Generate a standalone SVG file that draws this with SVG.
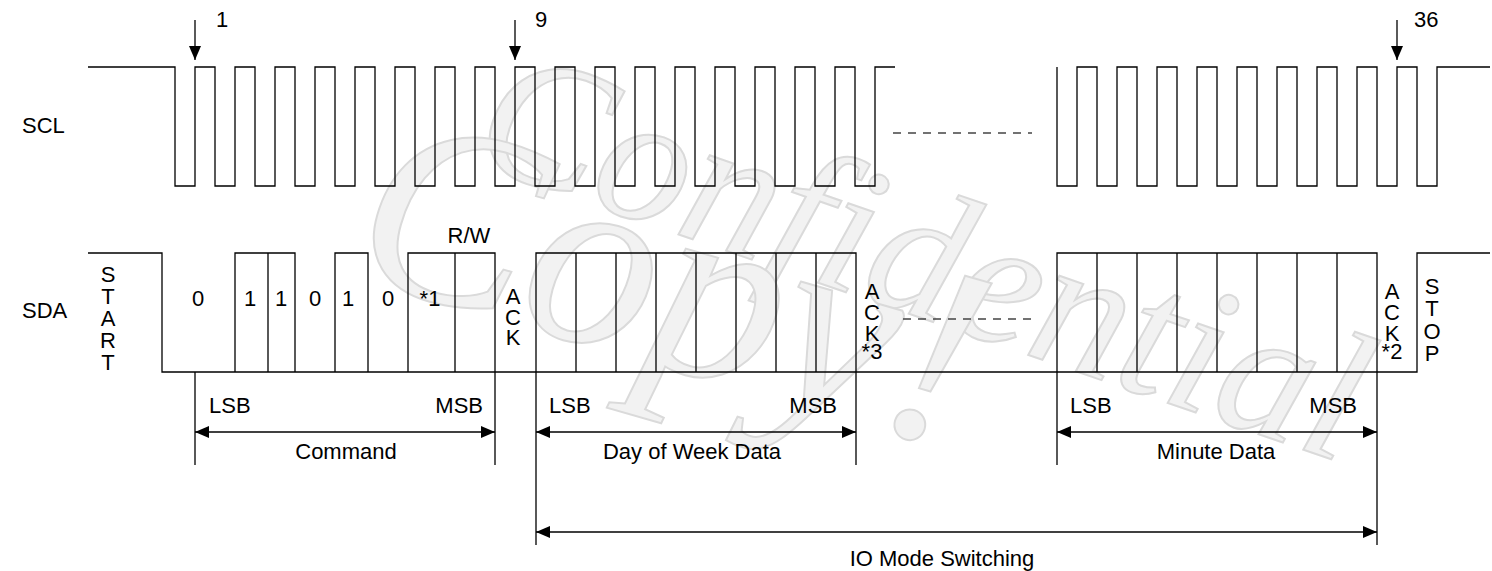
<svg xmlns="http://www.w3.org/2000/svg" width="1492" height="571" viewBox="0 0 1492 571">
<style>
.w{fill:none;stroke:#000;stroke-width:1.3}
.d{fill:none;stroke:#444;stroke-width:1.3;stroke-dasharray:8 7}
.t{font-family:"Liberation Sans",Arial,sans-serif;font-size:22px;fill:#000}
.m{text-anchor:middle}
.e{text-anchor:end}
.v{writing-mode:vertical-rl;text-orientation:upright}
.wm{font-family:"Liberation Serif","Times New Roman",serif;font-style:italic;fill:#f2f2f2;stroke:#dadada;stroke-width:2}
</style>
<defs>
<marker id="ah" viewBox="0 0 14 12" refX="14" refY="6" markerWidth="14" markerHeight="12" markerUnits="userSpaceOnUse" orient="auto-start-reverse"><path d="M0,0 L14,6 L0,12 z" fill="#000"/></marker>
</defs>
<rect width="1492" height="571" fill="#fff"/>
<g id="watermark">
<text class="wm" font-size="185" transform="translate(468,162) rotate(19)">Confidential</text>
<text class="wm" font-size="260" transform="translate(345,275) rotate(16)">Copy!</text>
</g>
<g id="scl">
<text class="t" x="22" y="133">SCL</text>
<path class="w" d="M88,67 H175 V186 H195 V67 H215 V186 H235 V67 H255 V186 H275 V67 H295 V186 H315 V67 H335 V186 H355 V67 H375 V186 H395 V67 H415 V186 H435 V67 H455 V186 H475 V67 H495 V186 H515 V67 H535 V186 H555 V67 H575 V186 H595 V67 H615 V186 H635 V67 H655 V186 H675 V67 H695 V186 H715 V67 H735 V186 H755 V67 H775 V186 H795 V67 H815 V186 H835 V67 H855 V186 H875 V67 H895"/>
<path class="w" d="M1057,67 V186 H1077 V67 H1097 V186 H1117 V67 H1137 V186 H1157 V67 H1177 V186 H1197 V67 H1217 V186 H1237 V67 H1257 V186 H1277 V67 H1297 V186 H1317 V67 H1337 V186 H1357 V67 H1377 V186 H1397 V67 H1417 V186 H1437 V67 H1490"/>
<path class="d" d="M893,133 H1032"/>
</g>
<g id="clock-marks">
<text class="t" x="216" y="27">1</text>
<text class="t" x="535" y="27">9</text>
<text class="t" x="1414" y="27">36</text>
</g>
<g id="sda">
<text class="t" x="22" y="318">SDA</text>
<path class="w" d="M88,253 H162 V372 H1417 V253 H1490"/>
<path class="w" d="M235,372 V253 H295 V372 M268,253 V372 M335,372 V253 H368 V372 M408,372 V253 H495 V372 M455,253 V372"/>
<path class="w" d="M536,372 V253 H856 V372 M576,253 V372 M616,253 V372 M656,253 V372 M696,253 V372 M736,253 V372 M776,253 V372 M816,253 V372"/>
<path class="w" d="M1057,372 V253 H1377 V372 M1097,253 V372 M1137,253 V372 M1177,253 V372 M1217,253 V372 M1257,253 V372 M1297,253 V372 M1337,253 V372"/>
<path class="d" d="M903,319 H1032"/>
</g>
<g id="start"><text class="t v" x="108" y="262" letter-spacing="-3">START</text></g>
<g id="bits">
<text class="t m" x="198" y="306">0</text>
<text class="t m" x="250" y="306">1</text>
<text class="t m" x="281" y="306">1</text>
<text class="t m" x="315" y="306">0</text>
<text class="t m" x="348" y="306">1</text>
<text class="t m" x="388" y="306">0</text>
<text class="t m" x="430" y="306">*1</text>
<text class="t m" x="469" y="243">R/W</text>
</g>
<g id="ack1"><text class="t v" x="513" y="284" letter-spacing="-4.5">ACK</text></g>
<g id="ack3"><text class="t v" x="872" y="278.5" letter-spacing="-4">ACK</text><text class="t m" x="872" y="359">*3</text></g>
<g id="ack2"><text class="t v" x="1392" y="278.5" letter-spacing="-4">ACK</text><text class="t m" x="1392" y="359">*2</text></g>
<g id="stop"><text class="t v" x="1432" y="274" letter-spacing="-2.7">STOP</text></g>
<g id="command">
<text class="t" x="209" y="413">LSB</text><text class="t e" x="483" y="413">MSB</text>
<text class="t m" x="346" y="459">Command</text>
</g>
<g id="dayofweek">
<text class="t" x="549" y="413">LSB</text><text class="t e" x="837" y="413">MSB</text>
<text class="t m" x="692" y="459">Day of Week Data</text>
</g>
<g id="minute">
<text class="t" x="1070" y="413">LSB</text><text class="t e" x="1357" y="413">MSB</text>
<text class="t m" x="1216" y="459">Minute Data</text>
</g>
<g id="iomode">
<text class="t m" x="942" y="566">IO Mode Switching</text>
</g>
<g id="connectors">
<path class="w" d="M195,20 V60" marker-end="url(#ah)"/>
<path class="w" d="M515,20 V60" marker-end="url(#ah)"/>
<path class="w" d="M1397,20 V60" marker-end="url(#ah)"/>
<path class="w" d="M195,372 V465 M495,372 V465 M536,372 V545 M856,372 V465 M1057,372 V465 M1377,372 V545"/>
<path class="w" d="M195,432 H495" marker-start="url(#ah)" marker-end="url(#ah)"/>
<path class="w" d="M536,432 H856" marker-start="url(#ah)" marker-end="url(#ah)"/>
<path class="w" d="M1057,432 H1377" marker-start="url(#ah)" marker-end="url(#ah)"/>
<path class="w" d="M536,532 H1377" marker-start="url(#ah)" marker-end="url(#ah)"/>
</g>
</svg>
